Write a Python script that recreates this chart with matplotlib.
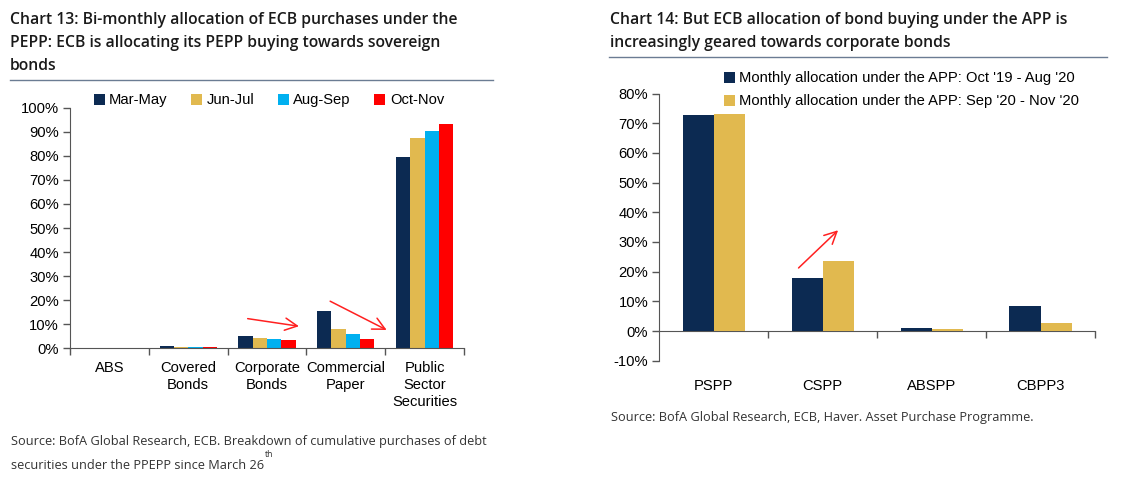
import matplotlib
matplotlib.use("Agg")
import matplotlib.pyplot as plt
import numpy as np

# data chart 13
cats13 = ["ABS", "Covered\nBonds", "Corporate\nBonds", "Commercial\nPaper", "Public\nSector\nSecurities"]
series13 = ["Mar-May", "Jun-Jul", "Aug-Sep", "Oct-Nov"]
mar_may = [0.0, 1.0, 5.0, 15.4, 79.6]
jun_jul = [0.0, 0.6, 4.3, 8.2, 87.4]
aug_sep = [0.0, 0.5, 3.9, 6.0, 90.2]
oct_nov = [0.0, 0.4, 3.3, 3.9, 93.1]
colors13 = ["#0c2a52", "#e1b94f", "#00b0f0", "#ff0000"]

# data chart 14
cats14 = ["PSPP", "CSPP", "ABSPP", "CBPP3"]
series14 = ["Monthly allocation under the APP: Oct '19 - Aug '20",
            "Monthly allocation under the APP: Sep '20 - Nov '20"]
app_old = [72.7, 17.9, 0.9, 8.5]
app_new = [73.1, 23.6, 0.6, 2.8]
colors14 = ["#0c2a52", "#e1b94f"]

narrow = ["Liberation Sans Narrow", "Liberation Sans", "DejaVu Sans"]
FS = 10.6
W, H = 1144, 486
fig = plt.figure(figsize=(W / 100, H / 100), dpi=100)


def fx(px):
    return px / W


def fy(py):
    return 1 - py / H


title_kw = dict(family=["Open Sans", "DejaVu Sans"], fontsize=11.3, weight="semibold",
                color="#1a1a1a", va="top", ha="left", linespacing=1.58)
src_kw = dict(family=["Open Sans", "DejaVu Sans"], fontsize=9.2, color="#333333",
              va="center", ha="left")

# ---------- Chart 13 ----------
fig.text(fx(10), fy(12), "Chart 13: Bi-monthly allocation of ECB purchases under the\n"
         "PEPP: ECB is allocating its PEPP buying towards sovereign\nbonds", **title_kw)
fig.add_artist(plt.Line2D([fx(10), fx(493)], [fy(80), fy(80)], color="#6b7c93", lw=1))

ax1 = fig.add_axes([fx(70), fy(348.3), fx(464) - fx(70), fy(107.7) - fy(348.3)])
x = np.arange(len(cats13))
w = 0.182
for i, (vals, name) in enumerate(zip([mar_may, jun_jul, aug_sep, oct_nov], series13)):
    ax1.bar(x + (i - 1.5) * w, vals, w, color=colors13[i], label=name)
ax1.set_xlim(-0.5, len(cats13) - 0.5)
ax1.set_ylim(0, 100)
ax1.set_yticks(np.arange(0, 101, 10))
ax1.set_yticklabels([f"{v}%" for v in range(0, 101, 10)])
ax1.set_xticks(x)
ax1.set_xticklabels(cats13, linespacing=1.3)
ax1.set_xticks(np.arange(-0.5, len(cats13), 1), minor=True)
ax1.tick_params(axis="x", which="major", length=0, pad=9)
ax1.tick_params(axis="x", which="minor", length=5, width=1, color="#555555")
ax1.tick_params(axis="y", length=5, width=1, color="#555555", pad=3)
for lab in ax1.get_xticklabels() + ax1.get_yticklabels():
    lab.set_family(narrow)
    lab.set_fontsize(FS)
for s in ["top", "right"]:
    ax1.spines[s].set_visible(False)
for s in ["left", "bottom"]:
    ax1.spines[s].set_color("#555555")
ax1.legend(loc="center left", bbox_to_anchor=(0.045, 1.03), ncol=4, frameon=False,
           prop={"family": narrow, "size": FS}, handlelength=0.75, handleheight=0.75,
           handletextpad=0.3, columnspacing=1.6, borderaxespad=0)

arrow = dict(arrowstyle="->", color="#ff2020", lw=1.1, mutation_scale=22)
ax1.annotate("", xy=(2.44, 9.0), xytext=(1.72, 12.5), arrowprops=arrow)
ax1.annotate("", xy=(3.55, 7.1), xytext=(2.77, 20.1), arrowprops=arrow)

fig.text(fx(11), fy(441), "Source: BofA Global Research, ECB. Breakdown of cumulative purchases of debt", **src_kw)
t2 = fig.text(fx(11), fy(465), "securities under the PPEPP since March 26", **src_kw)
fig.canvas.draw()
bb = t2.get_window_extent()
fig.text(bb.x1 / W + 0.0005, fy(454), "th", family=["Open Sans", "DejaVu Sans"], fontsize=6.3,
         color="#333333", va="center", ha="left")

# ---------- Chart 14 ----------
fig.text(fx(610), fy(12), "Chart 14: But ECB allocation of bond buying under the APP is\n"
         "increasingly geared towards corporate bonds", **title_kw)
fig.add_artist(plt.Line2D([fx(609), fx(1107)], [fy(57), fy(57)], color="#6b7c93", lw=1))

ax2 = fig.add_axes([fx(659.3), fy(360.7), fx(1095) - fx(659.3), fy(93.6) - fy(360.7)])
x2 = np.arange(len(cats14))
w2 = 0.285
ax2.bar(x2 - w2 / 2, app_old, w2, color=colors14[0], label=series14[0])
ax2.bar(x2 + w2 / 2, app_new, w2, color=colors14[1], label=series14[1])
ax2.set_xlim(-0.5, len(cats14) - 0.5)
ax2.set_ylim(-10, 80)
ax2.set_yticks(np.arange(-10, 81, 10))
ax2.set_yticklabels([f"{v}%" for v in range(-10, 81, 10)])
ax2.set_xticks(x2)
ax2.set_xticklabels(cats14)
ax2.tick_params(axis="x", length=0, pad=13)
ax2.tick_params(axis="y", length=5, width=1, color="#555555", pad=3)
for lab in ax2.get_xticklabels() + ax2.get_yticklabels():
    lab.set_family(narrow)
    lab.set_fontsize(FS)
for s in ["top", "right", "bottom"]:
    ax2.spines[s].set_visible(False)
ax2.spines["left"].set_color("#555555")
zero = ax2.secondary_xaxis(10 / 90)
zero.set_xticks(np.arange(0.5, len(cats14), 1))
zero.set_xticklabels([])
zero.tick_params(length=5, width=1, color="#555555")
zero.spines["bottom"].set_color("#555555")
ax2.legend(loc="upper left", bbox_to_anchor=(0.135, 1.105),
           frameon=False, prop={"family": narrow, "size": FS}, handlelength=0.75,
           handleheight=0.75, handletextpad=0.3, labelspacing=0.6, borderaxespad=0)
ax2.annotate("", xy=(1.16, 34.6), xytext=(0.76, 20.6), arrowprops=arrow)

fig.text(fx(611), fy(417), "Source: BofA Global Research, ECB, Haver. Asset Purchase Programme.", **src_kw)

fig.savefig("out.png", dpi=100)
